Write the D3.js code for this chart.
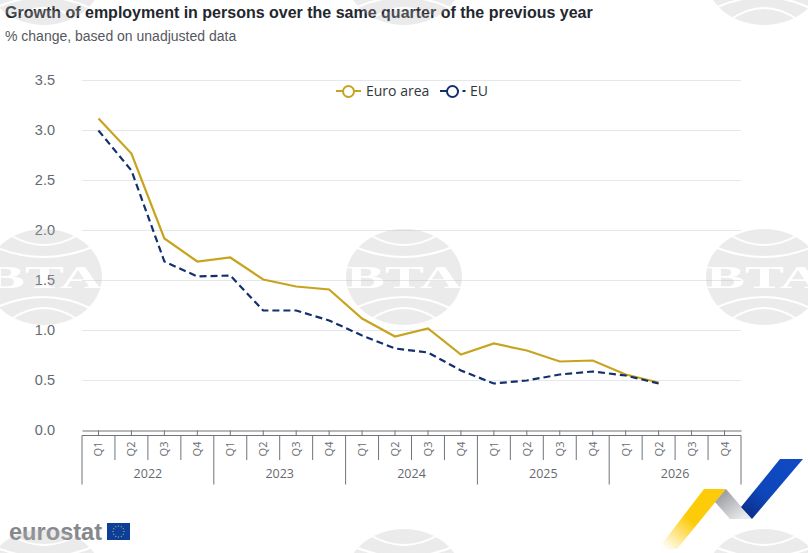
<!DOCTYPE html>
<html>
<head>
<meta charset="utf-8">
<script src="https://d3js.org/d3.v7.min.js"></script>
<style>
  html, body { margin: 0; padding: 0; background: #fff; }
  svg { display: block; }
</style>
</head>
<body>
<svg id="chart" width="808" height="553"></svg>
<script>
var years = ["2022", "2023", "2024", "2025", "2026"];
var quarters = ["Q1", "Q2", "Q3", "Q4"];
var yTicks = [0, 0.5, 1, 1.5, 2, 2.5, 3, 3.5];
var euroArea = [3.12, 2.77, 1.92, 1.69, 1.73, 1.51, 1.44, 1.41, 1.12, 0.94, 1.02, 0.76, 0.87, 0.80, 0.69, 0.70, 0.56, 0.48];
var eu = [3.0, 2.6, 1.69, 1.54, 1.55, 1.2, 1.2, 1.1, 0.95, 0.82, 0.78, 0.6, 0.47, 0.5, 0.56, 0.59, 0.55, 0.47];

var GOLD = "#c8a41e", NAVY = "#12306e", AXIS = "#70737a", TEXT = "#666a70";
var sans = "'Liberation Sans', Arial, sans-serif";
var open = "'Open Sans', sans-serif";

var svg = d3.select("#chart");
var defs = svg.append("defs");

var periods = [];
years.forEach(function(y) { quarters.forEach(function(q) { periods.push(y + "-" + q); }); });

var x = d3.scaleBand().domain(periods).range([82, 741]);
var y = d3.scaleLinear().domain([0, 3.5]).range([430.5, 80.5]);

// titles
svg.append("text").attr("x", 5).attr("y", 18)
  .attr("font-family", sans).attr("font-size", 16).attr("font-weight", 700).attr("fill", "#24272e")
  .text("Growth of employment in persons over the same quarter of the previous year");
svg.append("text").attr("x", 5).attr("y", 41)
  .attr("font-family", sans).attr("font-size", 14).attr("fill", "#55585e")
  .text("% change, based on unadjusted data");

// y axis + grid
var yAxis = svg.append("g").attr("transform", "translate(82,-1)")
  .call(d3.axisLeft(y).tickValues(yTicks).tickFormat(d3.format(".1f")).tickSize(0).tickPadding(27));
yAxis.select(".domain").remove();
yAxis.selectAll("text").attr("font-family", sans).attr("font-size", 14.5).attr("fill", TEXT);
svg.append("g").selectAll("line").data(yTicks.slice(1)).join("line")
  .attr("x1", 82).attr("x2", 741)
  .attr("y1", function(d) { return y(d); }).attr("y2", function(d) { return y(d); })
  .attr("stroke", "#e4e7ee").attr("stroke-width", 1);

// x axis, two levels
var xAxis = svg.append("g").attr("transform", "translate(0,430.5)")
  .call(d3.axisBottom(x).tickSize(5).tickSizeOuter(0).tickFormat(""));
xAxis.select(".domain").attr("stroke", AXIS).attr("stroke-width", 1.2);
xAxis.selectAll("line").attr("stroke", AXIS);

var axisG = svg.append("g");
axisG.append("line").attr("x1", 82).attr("x2", 741).attr("y1", 435.5).attr("y2", 435.5).attr("stroke", AXIS);

axisG.selectAll(".sep").data(periods.concat(["end"])).join("line")
  .attr("class", "sep")
  .attr("x1", function(d, i) { return 82 + i * x.bandwidth(); })
  .attr("x2", function(d, i) { return 82 + i * x.bandwidth(); })
  .attr("y1", 435.5)
  .attr("y2", function(d, i) { return i % 4 === 0 ? 484.5 : 460; })
  .attr("stroke", AXIS).attr("stroke-width", 1);

axisG.selectAll(".q").data(periods).join("text")
  .attr("class", "q")
  .attr("transform", function(d) { return "translate(" + (x(d) + x.bandwidth() / 2 + 4) + ",449) rotate(-90)"; })
  .attr("text-anchor", "middle")
  .attr("font-family", open).attr("font-size", 11).attr("fill", TEXT)
  .text(function(d) { return d.split("-")[1]; });

axisG.selectAll(".yr").data(years).join("text")
  .attr("class", "yr")
  .attr("x", function(d) { return x(d + "-Q1") + x.bandwidth() * 2; })
  .attr("y", 478)
  .attr("text-anchor", "middle")
  .attr("font-family", open).attr("font-size", 12.5).attr("fill", TEXT)
  .text(function(d) { return d; });

// lines
var line = d3.line()
  .x(function(d, i) { return x(periods[i]) + x.bandwidth() / 2; })
  .y(function(d) { return y(d); });

svg.append("path").datum(euroArea).attr("d", line)
  .attr("fill", "none").attr("stroke", GOLD).attr("stroke-width", 2.2);
svg.append("path").datum(eu).attr("d", line)
  .attr("fill", "none").attr("stroke", NAVY).attr("stroke-width", 2.2).attr("stroke-dasharray", "7,4");

// legend
var legend = svg.append("g").attr("font-family", open).attr("font-size", 14).attr("fill", "#33363c");
legend.append("line").attr("x1", 336).attr("x2", 361).attr("y1", 91).attr("y2", 91)
  .attr("stroke", GOLD).attr("stroke-width", 2);
legend.append("circle").attr("cx", 348.5).attr("cy", 91.5).attr("r", 5.5)
  .attr("fill", "#fff").attr("stroke", GOLD).attr("stroke-width", 2);
legend.append("text").attr("x", 366).attr("y", 96).text("Euro area");
legend.append("line").attr("x1", 440).attr("x2", 466).attr("y1", 91).attr("y2", 91)
  .attr("stroke", NAVY).attr("stroke-width", 2).attr("stroke-dasharray", "19,3.5,3");
legend.append("circle").attr("cx", 452.5).attr("cy", 91.5).attr("r", 5.5)
  .attr("fill", "#fff").attr("stroke", NAVY).attr("stroke-width", 2);
legend.append("text").attr("x", 470).attr("y", 96).text("EU");

// eurostat logo
svg.append("text").attr("x", 9).attr("y", 540)
  .attr("font-family", sans).attr("font-size", 23.6).attr("font-weight", 700).attr("fill", "#85878c")
  .text("eurostat");
svg.append("rect").attr("x", 107).attr("y", 523).attr("width", 23).attr("height", 17).attr("fill", "#0e3f98");
var starAngles = d3.range(12).map(function(i) { return i * Math.PI / 6; });
svg.append("g").selectAll("circle").data(starAngles).join("circle")
  .attr("cx", function(a) { return 118.5 + 5.5 * Math.cos(a); })
  .attr("cy", function(a) { return 531.5 + 5.5 * Math.sin(a); })
  .attr("r", 0.6).attr("fill", "#e6d36a");

// ribbon
function grad(id, x1, y1, x2, y2, stops) {
  var g = defs.append("linearGradient").attr("id", id).attr("gradientUnits", "userSpaceOnUse")
    .attr("x1", x1).attr("y1", y1).attr("x2", x2).attr("y2", y2);
  stops.forEach(function(s) { g.append("stop").attr("offset", s[0]).attr("stop-color", s[1]).attr("stop-opacity", s[2]); });
}
grad("gYellow", 715, 489, 665, 549, [[0, "#fdcb07", 1], [0.5, "#fdcb07", 1], [1, "#fdcb07", 0]]);
grad("gGray", 722, 492, 742, 518, [[0, "#9a9ca0", 1], [1, "#e9eaec", 1]]);
grad("gBlue", 790, 459, 745, 515, [[0, "#0f4ac4", 1], [0.6, "#0e46ba", 1], [1, "#0b2f8a", 1]]);
svg.append("path").attr("d", "M704,489L726,489L677,549L658,549Z").attr("fill", "url(#gYellow)");
svg.append("path").attr("d", "M726,489L752,519L730,519L715,502Z").attr("fill", "url(#gGray)");
svg.append("path").attr("d", "M780,459L803,459L752,519L741,507Z").attr("fill", "url(#gBlue)");

// BTA watermark tiled over the whole picture
var mask = defs.append("mask").attr("id", "btaMask").attr("maskUnits", "userSpaceOnUse")
  .attr("x", -10).attr("y", -10).attr("width", 140).attr("height", 120);
mask.append("ellipse").attr("cx", 58).attr("cy", 48).attr("rx", 58).attr("ry", 48).attr("fill", "#fff");
["M24,6Q58,26 92,6", "M4,16Q58,40 111,16", "M9,79Q58,57 104,79", "M24,91Q58,67 92,91"].forEach(function(d) {
  mask.append("path").attr("d", d).attr("fill", "none").attr("stroke", "#000").attr("stroke-width", 2);
});
mask.append("text").attr("x", 58).attr("y", 59).attr("text-anchor", "middle")
  .attr("font-family", "'Liberation Serif', serif").attr("font-weight", 700).attr("font-size", 32)
  .attr("textLength", 116).attr("lengthAdjust", "spacingAndGlyphs").attr("fill", "#000")
  .text("BTA");

var marks = [];
[44, 404, 764].forEach(function(cx) { [-23, 277, 577].forEach(function(cy) { marks.push([cx, cy]); }); });
svg.append("g").attr("pointer-events", "none").selectAll("g").data(marks).join("g")
  .attr("transform", function(d) { return "translate(" + (d[0] - 58) + "," + (d[1] - 48) + ")"; })
  .append("rect").attr("x", 0).attr("y", 0).attr("width", 116).attr("height", 96)
  .attr("fill", "#b7b7b7").attr("opacity", 0.27).attr("mask", "url(#btaMask)");
</script>
</body>
</html>
